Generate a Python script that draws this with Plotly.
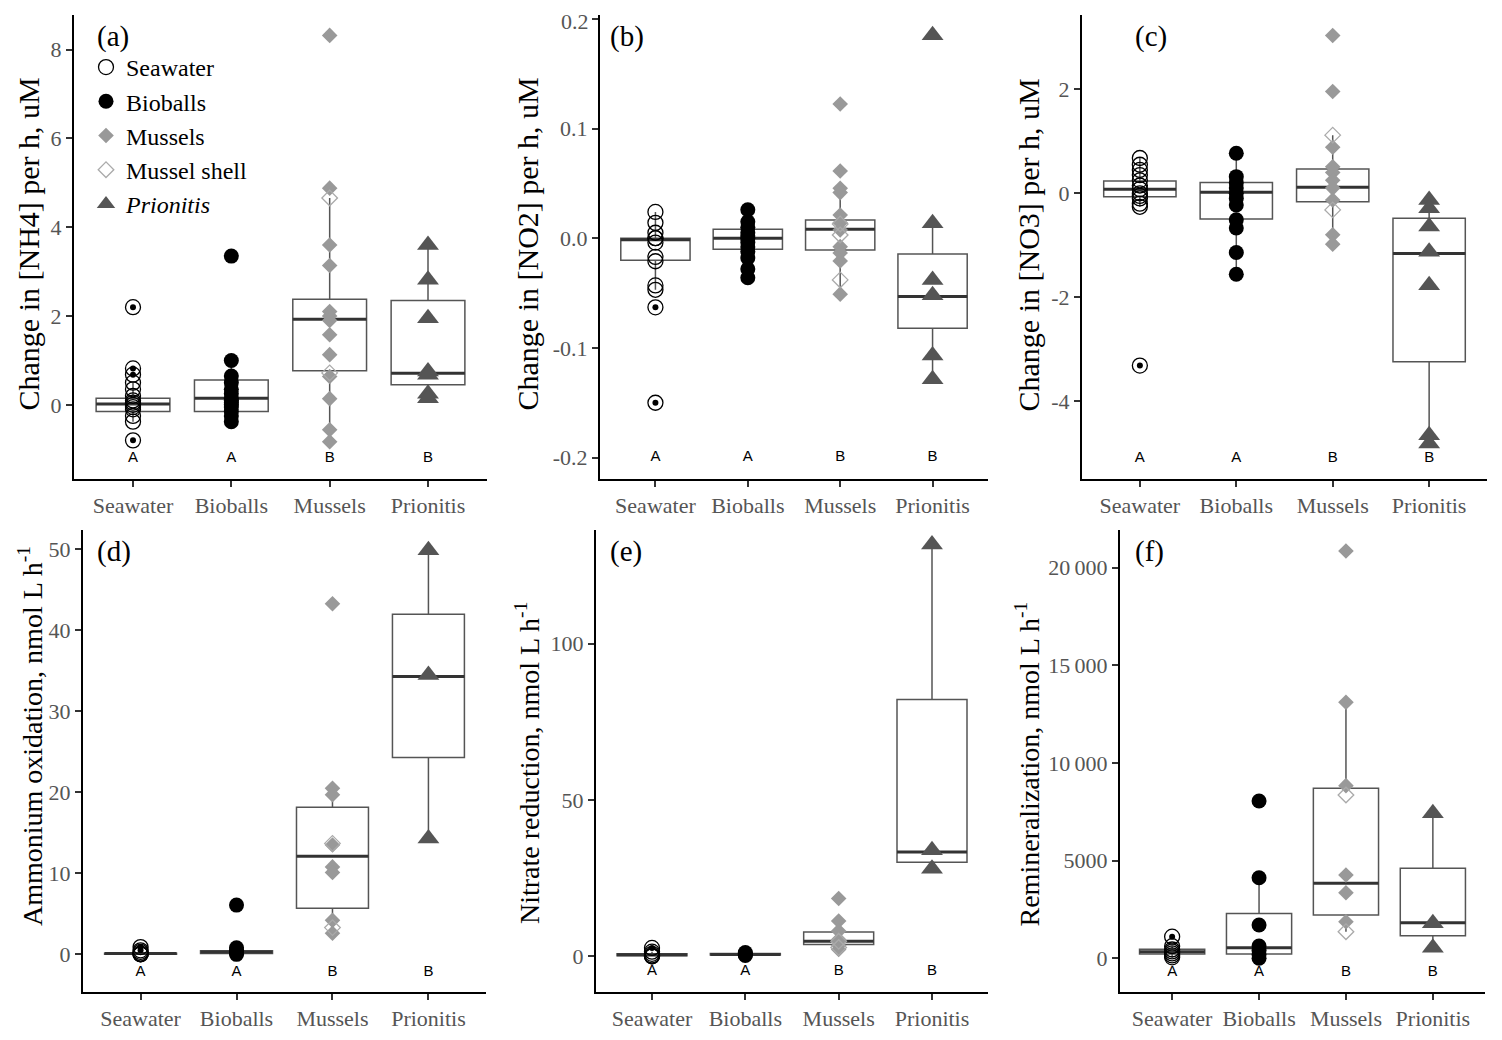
import plotly.graph_objects as go

# the page keeps the browser's 8 px body margin, so the figure is 16 px smaller
# than the 1502x1040 window and all reference pixel positions are shifted by 8
PAGE_W, PAGE_H, OFF = 1502, 1040, 8
W, H = PAGE_W - 2 * OFF, PAGE_H - 2 * OFF

categories = ["Seawater", "Bioballs", "Mussels", "Prionitis"]
letters = ["A", "A", "B", "B"]

# ---- (a) Change in [NH4] ----
sw_a = [2.2, 0.82, 0.68, 0.5, 0.35, 0.2, 0.1, 0.05, 0.0, -0.05, -0.1, -0.25, -0.38, -0.8]
bb_a = [3.35, 1.0, 0.65, 0.5, 0.35, 0.25, 0.15, 0.1, 0.05, 0.0, -0.05, -0.15, -0.25, -0.38]
mu_a = [8.32, 4.88, 3.6, 3.14, 2.1, 2.0, 1.9, 1.58, 1.13, 0.64, 0.14, -0.56, -0.83]
ms_a = [4.66, 0.72]
pr_a = [3.6, 2.82, 1.95, 0.75, 0.68, 0.25, 0.15]
# box stats per category: q1, median, q3, lower whisker, upper whisker
q1_a = [-0.15, -0.15, 0.77, 0.45]
med_a = [0.02, 0.15, 1.93, 0.71]
q3_a = [0.15, 0.56, 2.38, 2.35]
lo_a = [-0.38, -0.38, -0.83, 0.15]
hi_a = [0.5, 1.0, 4.66, 3.6]

# ---- (b) Change in [NO2] ----
sw_b = [0.024, 0.014, 0.005, 0.0, 0.0, -0.004, -0.017, -0.021, -0.043, -0.047, -0.063, -0.15]
bb_b = [0.026, 0.015, 0.01, 0.005, 0.002, 0.0, -0.004, -0.008, -0.012, -0.018, -0.028, -0.036]
mu_b = [0.1224, 0.0613, 0.0456, 0.0416, 0.0212, 0.0142, 0.0076, -0.0077, -0.0134, -0.0207, -0.051]
ms_b = [0.013, 0.003, -0.038]
pr_b = [0.185, 0.0137, -0.038, -0.052, -0.107, -0.1286]
q1_b = [-0.02, -0.010, -0.0107, -0.082]
med_b = [-0.0015, 0.0, 0.0082, -0.0532]
q3_b = [0.0, 0.0082, 0.0167, -0.0143]
lo_b = [-0.047, -0.036, -0.051, -0.1286]
hi_b = [0.024, 0.026, 0.044, 0.0137]

# ---- (c) Change in [NO3] ----
sw_c = [0.68, 0.55, 0.45, 0.35, 0.25, 0.15, 0.08, 0.0, -0.05, -0.1, -0.2, -0.26, -3.32]
bb_c = [0.77, 0.32, 0.2, 0.1, 0.0, -0.1, -0.225, -0.51, -0.67, -1.14, -1.56]
mu_c = [3.04, 1.96, 0.886, 0.51, 0.4, 0.25, 0.1, -0.13, -0.8, -0.98]
ms_c = [1.12, -0.32]
pr_c = [-0.13, -0.29, -0.64, -1.125, -1.77, -4.66, -4.82]
q1_c = [-0.065, -0.495, -0.162, -3.245]
med_c = [0.077, 0.02, 0.115, -1.16]
q3_c = [0.237, 0.21, 0.468, -0.48]
lo_c = [-0.26, -1.56, -0.98, -4.82]
hi_c = [0.7, 0.77, 1.12, -0.13]

# ---- (d) Ammonium oxidation ----
sw_d = [0.9, 0.5, 0.3, 0.1, 0.05, 0.0, 0.0]
bb_d = [6.08, 0.8, 0.5, 0.3, 0.2, 0.0]
mu_d = [43.3, 20.5, 19.7, 13.5, 10.8, 10.1, 4.2, 2.6]
ms_d = [13.7, 3.3]
pr_d = [49.9, 34.5, 14.3]
q1_d = [0.0, 0.1, 5.7, 24.3]
med_d = [0.1, 0.3, 12.1, 34.3]
q3_d = [0.15, 0.45, 18.15, 42.0]
lo_d = [0.0, 0.0, 2.6, 14.3]
hi_d = [0.3, 0.8, 20.5, 49.9]

# ---- (e) Nitrate reduction ----
sw_e = [2.7, 1.5, 0.8, 0.3, 0.0, 0.0]
bb_e = [1.2, 0.8, 0.5, 0.3]
mu_e = [18.5, 11.3, 8.1, 5.4, 4.5, 3.5, 2.2]
ms_e = [4.8, 2.8]
pr_e = [131.7, 33.9, 28.0]
q1_e = [0.2, 0.4, 3.8, 30.1]
med_e = [0.5, 0.6, 4.85, 33.35]
q3_e = [0.8, 0.9, 7.75, 82.1]
lo_e = [0.0, 0.3, 2.2, 28.0]
hi_e = [1.5, 1.2, 11.3, 131.7]

# ---- (f) Remineralization ----
sw_f = [1106, 620, 450, 350, 250, 150, 50]
bb_f = [8054, 4127, 1705, 630, 400, 200, 0]
mu_f = [20855, 13108, 8840, 4265, 3360, 1875]
ms_f = [8362, 1363]
pr_f = [7425, 1792, 545]
q1_f = [220, 220, 2217, 1157]
med_f = [340, 545, 3840, 1823]
q3_f = [460, 2300, 8705, 4608]
lo_f = [50, 0, 1363, 545]
hi_f = [620, 4127, 13108, 7425]

letter_y = [-1.2, -0.2, -5.1, -2.2, -4.9, -700]
y_ranges = [[-1.67, 8.78], [-0.2195, 0.2035], [-5.505, 3.435],
            [-4.65, 52.4], [-11.4, 136.3], [-1725, 21930]]
y_ticks = [[0, 2, 4, 6, 8], [-0.2, -0.1, 0.0, 0.1, 0.2], [-4, -2, 0, 2],
           [0, 10, 20, 30, 40, 50], [0, 50, 100], [0, 5000, 10000, 15000, 20000]]
y_ticktext = [["0", "2", "4", "6", "8"], ["-0.2", "-0.1", "0.0", "0.1", "0.2"],
              ["-4", "-2", "0", "2"], ["0", "10", "20", "30", "40", "50"],
              ["0", "50", "100"], ["0", "5000", "10\u2009000", "15\u2009000", "20\u2009000"]]
y_titles = ["Change in [NH4] per h, uM", "Change in [NO2] per h, uM", "Change in [NO3] per h, uM",
            "Ammonium oxidation, nmol L h<sup>-1</sup>", "Nitrate reduction, nmol L h<sup>-1</sup>",
            "Remineralization, nmol L h<sup>-1</sup>"]
panel_tags = ["(a)", "(b)", "(c)", "(d)", "(e)", "(f)"]

panels = [
    (sw_a, bb_a, mu_a, ms_a, pr_a, q1_a, med_a, q3_a, lo_a, hi_a),
    (sw_b, bb_b, mu_b, ms_b, pr_b, q1_b, med_b, q3_b, lo_b, hi_b),
    (sw_c, bb_c, mu_c, ms_c, pr_c, q1_c, med_c, q3_c, lo_c, hi_c),
    (sw_d, bb_d, mu_d, ms_d, pr_d, q1_d, med_d, q3_d, lo_d, hi_d),
    (sw_e, bb_e, mu_e, ms_e, pr_e, q1_e, med_e, q3_e, lo_e, hi_e),
    (sw_f, bb_f, mu_f, ms_f, pr_f, q1_f, med_f, q3_f, lo_f, hi_f),
]

# panel boxes in window pixels: left, right, top, bottom
px_boxes = [(74, 487, 15, 479), (600, 988, 15, 479), (1082, 1487, 15, 479),
            (83, 486, 530, 992), (596, 988, 530, 992), (1120, 1485, 530, 992)]
ytitle_x = [28, 527, 1028, 30, 527, 1028]
ytitle_bottom = [413, 413, 413, 928, 926, 928]
ytitle_size = [30, 30, 30, 28, 28, 28]
tag_x = [95, 608, 1133, 95, 608, 1133]


def xpaper(p):
    return (p - OFF) / W


def ypaper(p):
    return 1 - (p - OFF) / H


SERIF = "Liberation Serif"
TICKFONT = dict(family=SERIF, size=22, color="#555555")
groups = [
    # name, legend text, category index, symbol, size, fill, line color
    ("Seawater", "Seawater", 1, "circle-open", 15, "black", "black"),
    ("Bioballs", "Bioballs", 2, "circle", 15, "black", "black"),
    ("Mussels", "Mussels", 3, "diamond", 12, "#999999", "#999999"),
    ("Mussel shell", "Mussel shell", 3, "diamond-open", 12, "#aaaaaa", "#aaaaaa"),
    ("Prionitis", "<i>Prionitis</i>", 4, "triangle-up", 19, "#555555", "#555555"),
]
box_colors = ["black", "black", "#999999", "#555555"]

fig = go.Figure()
layout = {}
positions = [1, 2, 3, 4]
annotations = []

for i, p in enumerate(panels):
    sw, bb, mu, ms, pr, q1, med, q3, lo, hi = p
    xa = "x" if i == 0 else f"x{i+1}"
    ya = "y" if i == 0 else f"y{i+1}"
    # boxes
    for k in range(4):
        fig.add_trace(go.Box(
            x=[positions[k]], q1=[q1[k]], median=[med[k]], q3=[q3[k]],
            lowerfence=[lo[k]], upperfence=[hi[k]], width=0.75, whiskerwidth=0,
            boxpoints=False, fillcolor="white", line=dict(color="#555555", width=1.5),
            xaxis=xa, yaxis=ya, showlegend=False, hoverinfo="skip"))
    # thicker median segments
    for k in range(4):
        fig.add_trace(go.Scatter(
            x=[positions[k] - 0.375, positions[k] + 0.375], y=[med[k], med[k]],
            mode="lines", line=dict(color="#333333", width=3),
            xaxis=xa, yaxis=ya, showlegend=False, hoverinfo="skip"))
    # outlier dots from boxplot (beyond whiskers)
    vals_by_cat = [sw, bb, mu + ms, pr]
    for k in range(4):
        outs = [v for v in vals_by_cat[k] if v < lo[k] or v > hi[k]]
        if outs:
            fig.add_trace(go.Scatter(
                x=[positions[k]] * len(outs), y=outs, mode="markers",
                marker=dict(symbol="circle", size=6, color=box_colors[k]),
                xaxis=xa, yaxis=ya, showlegend=False, hoverinfo="skip"))
    # data points
    for (name, label, pos, sym, size, fill, lc), vals in zip(groups, [sw, bb, mu, ms, pr]):
        fig.add_trace(go.Scatter(
            x=[pos] * len(vals), y=vals, mode="markers", name=label,
            marker=dict(symbol=sym, size=size, color=fill,
                        line=dict(color=lc, width=1.3 if "open" in sym else 0)),
            xaxis=xa, yaxis=ya, showlegend=(i == 0)))
    # significance letters
    fig.add_trace(go.Scatter(
        x=positions, y=[letter_y[i]] * 4, text=letters, mode="text",
        textfont=dict(family="Liberation Sans", size=15, color="black"),
        xaxis=xa, yaxis=ya, showlegend=False, hoverinfo="skip"))

    l, r, t, b = px_boxes[i]
    axis_style = dict(showgrid=False, zeroline=False, showline=True, linecolor="black",
                      linewidth=2, ticks="outside", ticklen=6, tickcolor="#333333",
                      tickwidth=2, tickfont=TICKFONT, fixedrange=True)
    layout["xaxis" if i == 0 else f"xaxis{i+1}"] = dict(
        domain=[xpaper(l), xpaper(r)], anchor=ya, range=[0.4, 4.6],
        tickvals=positions, ticktext=categories, **axis_style)
    layout["yaxis" if i == 0 else f"yaxis{i+1}"] = dict(
        domain=[ypaper(b), ypaper(t)], anchor=xa, range=y_ranges[i],
        tickvals=y_ticks[i], ticktext=y_ticktext[i], **axis_style)

    # a tick label that sits at the very top edge of the page is dropped by
    # plotly, so write it as an annotation beside its tick instead
    top_val = y_ticks[i][-1]
    top_px = t + (y_ranges[i][1] - top_val) / (y_ranges[i][1] - y_ranges[i][0]) * (b - t)
    if top_px < 22:
        annotations.append(dict(
            text=y_ticktext[i][-1], xref="paper", yref=ya, x=xpaper(l - 9), y=top_val,
            xanchor="right", yanchor="middle", yshift=-3, showarrow=False, font=TICKFONT))

for i in range(6):
    l, r, t, b = px_boxes[i]
    annotations.append(dict(
        text=y_titles[i], textangle=-90, xref="paper", yref="paper",
        x=xpaper(ytitle_x[i]), y=ypaper(ytitle_bottom[i]), showarrow=False,
        xanchor="center", yanchor="bottom",
        font=dict(family=SERIF, size=ytitle_size[i], color="black")))
    annotations.append(dict(
        text=panel_tags[i], xref="paper", yref="paper",
        x=xpaper(tag_x[i]), y=ypaper(t + 21), showarrow=False,
        xanchor="left", yanchor="middle",
        font=dict(family=SERIF, size=29, color="black")))

fig.update_layout(
    **layout,
    annotations=annotations,
    width=W, height=H,
    margin=dict(l=0, r=0, t=0, b=0),
    paper_bgcolor="white", plot_bgcolor="white",
    boxmode="overlay",
    showlegend=True,
    legend=dict(x=xpaper(86), y=ypaper(45), xanchor="left", yanchor="top",
                bgcolor="rgba(0,0,0,0)", tracegroupgap=0,
                font=dict(family=SERIF, size=24, color="black")),
)

fig.write_html("out.html", config={"displayModeBar": False})
